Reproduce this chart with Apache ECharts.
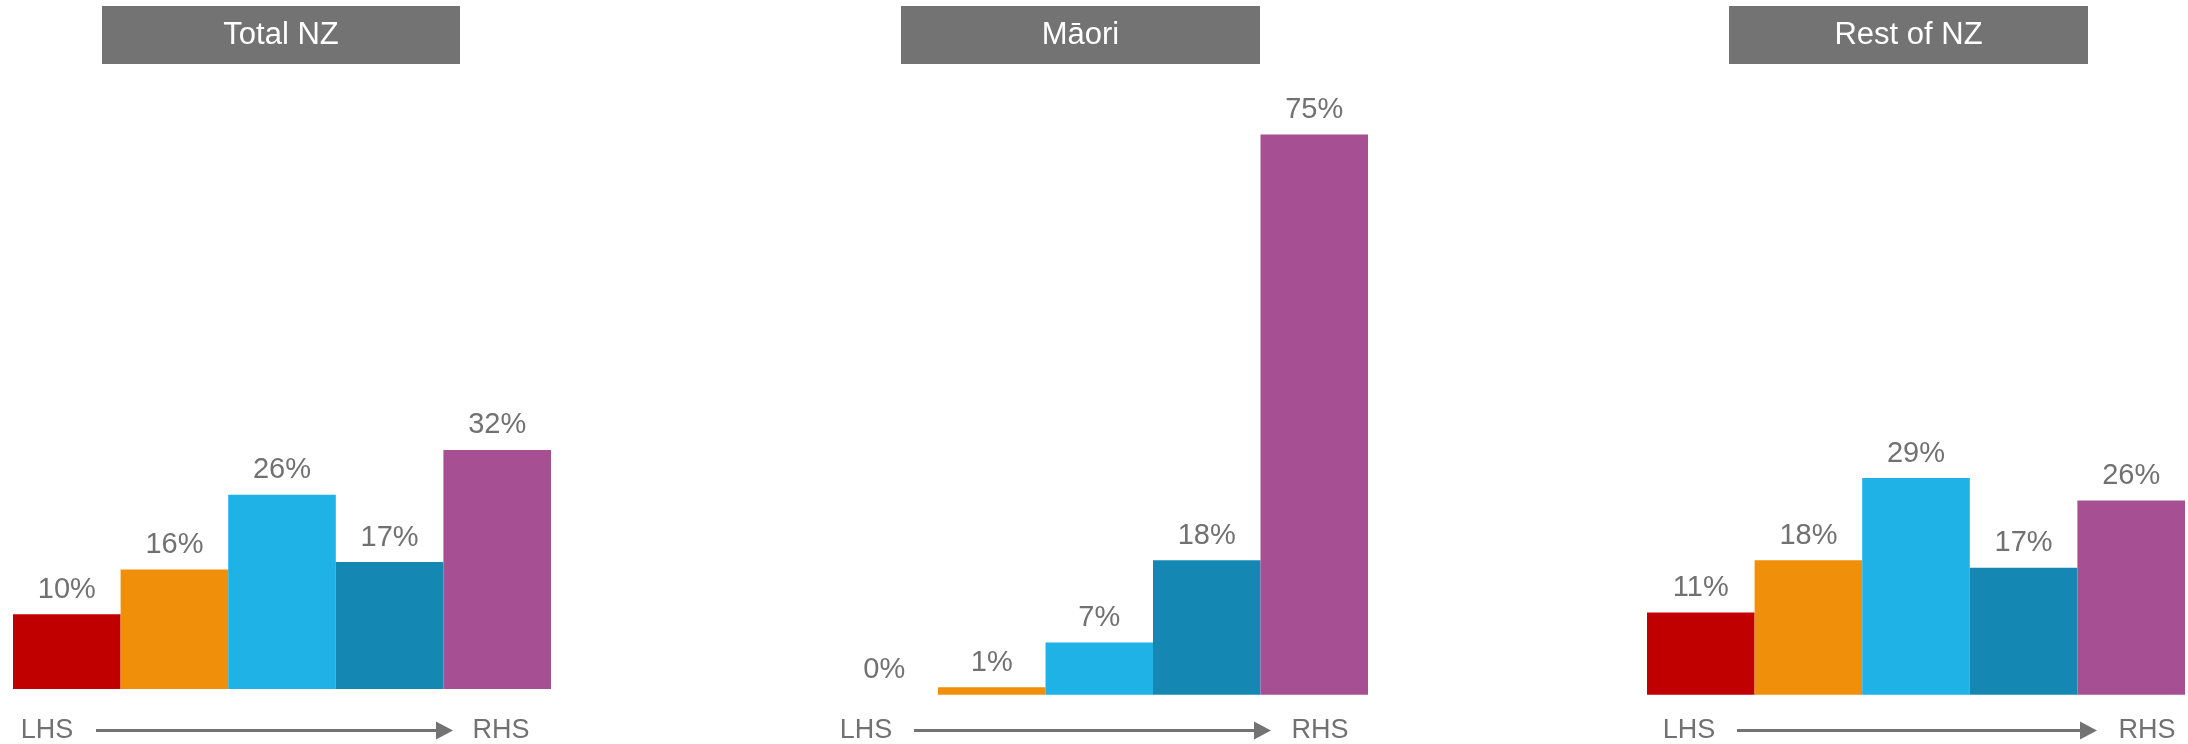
<!DOCTYPE html>
<html>
<head>
<meta charset="utf-8">
<title>Distribution by band</title>
<script src="https://cdn.jsdelivr.net/npm/echarts@6/dist/echarts.min.js"></script>
<style>
  html, body { margin: 0; padding: 0; background: #ffffff; }
  #chart { width: 2188px; height: 744px; }
</style>
</head>
<body>
<div id="chart"></div>
<script>
// Bands run from the left-hand side (LHS) to the right-hand side (RHS)
const bands = ['Band 1', 'Band 2', 'Band 3', 'Band 4', 'Band 5'];
const panelTitles = ['Total NZ', 'Māori', 'Rest of NZ'];
const totalNZ = [10, 16, 26, 17, 32];
const maori = [0, 1, 7, 18, 75];
const restOfNZ = [11, 18, 29, 17, 26];
const axisEnds = ['LHS', 'RHS'];

const bandColors = ['#C00000', '#F08F0A', '#1EB2E6', '#1488B3', '#A64F93'];
const GREY = '#717171';
const FONT = '"Liberation Sans", Arial, sans-serif';
const Y_MAX = 80;

// Panel geometry: plot area and header / arrow positions
const panels = [
  { data: totalNZ,  left: 13,    width: 538,   bottom: 55,   titleX: 102,  titleW: 358, lhsX: 47,   lineX1: 96,   tipX: 453,  rhsX: 501 },
  { data: maori,    left: 830.5, width: 537.5, bottom: 49.3, titleX: 901,  titleW: 359, lhsX: 866,  lineX1: 914,  tipX: 1271, rhsX: 1320 },
  { data: restOfNZ, left: 1647,  width: 538,   bottom: 49.3, titleX: 1729, titleW: 359, lhsX: 1689, lineX1: 1737, tipX: 2097, rhsX: 2147 }
];
const PX_PER_UNIT = 7.47;
const ARROW_Y = 730.5;

const grids = [], xAxes = [], yAxes = [], series = [], graphics = [];

panels.forEach((p, i) => {
  const plotH = Y_MAX * PX_PER_UNIT;
  grids.push({ left: p.left, width: p.width, bottom: p.bottom, height: plotH, containLabel: false });
  xAxes.push({
    type: 'category', gridIndex: i, data: bands,
    axisLine: { show: false }, axisTick: { show: false }, axisLabel: { show: false }, splitLine: { show: false }
  });
  yAxes.push({
    type: 'value', gridIndex: i, min: 0, max: Y_MAX,
    axisLine: { show: false }, axisTick: { show: false }, axisLabel: { show: false }, splitLine: { show: false }
  });
  series.push({
    type: 'bar', xAxisIndex: i, yAxisIndex: i,
    barCategoryGap: 0, barWidth: '100%',
    data: p.data.map((v, k) => ({ value: v, itemStyle: { color: bandColors[k] } })),
    label: {
      show: true, position: 'top', distance: 10,
      formatter: '{c}%', color: GREY, fontSize: 29, fontFamily: FONT
    },
    silent: true, animation: false
  });

  // Header box with panel title
  graphics.push({
    type: 'rect', shape: { x: p.titleX, y: 6, width: p.titleW, height: 58 },
    style: { fill: '#737373' }, silent: true
  });
  graphics.push({
    type: 'text',
    style: {
      text: panelTitles[i], x: p.titleX + p.titleW / 2, y: 35,
      align: 'center', verticalAlign: 'middle',
      fill: '#ffffff', fontSize: 31, fontFamily: FONT
    },
    silent: true
  });

  // LHS → RHS arrow beneath the bars
  graphics.push({
    type: 'text',
    style: { text: axisEnds[0], x: p.lhsX, y: ARROW_Y, align: 'center', verticalAlign: 'middle', fill: GREY, fontSize: 27, fontFamily: FONT },
    silent: true
  });
  graphics.push({
    type: 'line', shape: { x1: p.lineX1, y1: ARROW_Y, x2: p.tipX - 14, y2: ARROW_Y },
    style: { stroke: '#737373', lineWidth: 3 }, silent: true
  });
  graphics.push({
    type: 'polygon',
    shape: { points: [[p.tipX, ARROW_Y], [p.tipX - 17, ARROW_Y - 9], [p.tipX - 17, ARROW_Y + 9]] },
    style: { fill: '#737373' }, silent: true
  });
  graphics.push({
    type: 'text',
    style: { text: axisEnds[1], x: p.rhsX, y: ARROW_Y, align: 'center', verticalAlign: 'middle', fill: GREY, fontSize: 27, fontFamily: FONT },
    silent: true
  });
});

const chart = echarts.init(document.getElementById('chart'), null, { renderer: 'canvas' });
chart.setOption({
  animation: false,
  backgroundColor: '#ffffff',
  textStyle: { fontFamily: FONT },
  grid: grids,
  xAxis: xAxes,
  yAxis: yAxes,
  series: series,
  graphic: graphics
});
</script>
</body>
</html>
